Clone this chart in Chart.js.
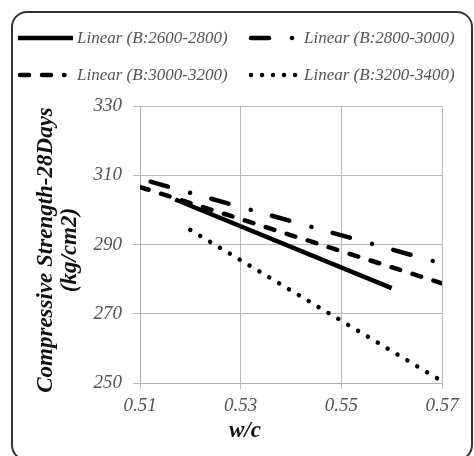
<!DOCTYPE html>
<html>
<head>
<meta charset="utf-8">
<script src="https://cdn.jsdelivr.net/npm/chart.js@4/dist/chart.umd.min.js"></script>
<style>
  html, body { margin: 0; padding: 0; background: #fff; }
  #wrap { position: relative; width: 474px; height: 456px; }
  #frame {
    position: absolute; left: 11px; top: 11px; width: 458px; height: 446px;
    border: 2px solid #333; border-radius: 16px; pointer-events: none;
  }
</style>
</head>
<body>
<div id="wrap">
  <canvas id="myChart" width="474" height="456"></canvas>
  <div id="frame"></div>
</div>
<script>
// series labels
const seriesNames = ['Linear (B:2600-2800)', 'Linear (B:2800-3000)', 'Linear (B:3000-3200)', 'Linear (B:3200-3400)'];

// trendline end points (w/c, kg/cm2)
const wc2600 = [0.517, 0.56];
const cs2600 = [303.0, 277.4];
const wc2800 = [0.51, 0.57];
const cs2800 = [309.0, 284.5];
const wc3000 = [0.51, 0.57];
const cs3000 = [306.6, 278.8];
const wc3200 = [0.52, 0.57];
const cs3200 = [294.2, 250.5];

// axis ticks
const xTicks = [0.51, 0.53, 0.55, 0.57];
const yTicks = [250, 270, 290, 310, 330];

const serif = "'Liberation Serif', 'Times New Roman', serif";

function pts(xs, ys) {
    return xs.map((x, i) => ({ x: x, y: ys[i] }));
}

const dashStyles = [
    { dash: [], offset: 0 },
    { dash: [18, 23, 0.01, 22], offset: 52 },
    { dash: [9, 13], offset: 0 },
    { dash: [0.01, 11.5], offset: 0 }
];

// legend drawn by hand so the dash patterns show
const legendPlugin = {
    id: 'handLegend',
    afterDraw(chart) {
        const ctx = chart.ctx;
        const items = [
            { x0: 18, x1: 73, y: 38, tx: 77, dash: [] },
            { x0: 251, x1: 293, y: 38, tx: 304, dash: [18, 23, 0.01, 22] },
            { x0: 20, x1: 64.5, y: 75, tx: 77, dash: [9, 13] },
            { x0: 251, x1: 297, y: 75, tx: 304, dash: [0.01, 11] }
        ];
        ctx.save();
        items.forEach((it, i) => {
            ctx.strokeStyle = '#000';
            ctx.lineWidth = 4.5;
            ctx.lineCap = i === 0 ? 'butt' : 'round';
            ctx.setLineDash(it.dash);
            ctx.beginPath();
            ctx.moveTo(it.x0, it.y);
            ctx.lineTo(it.x1, it.y);
            ctx.stroke();
            ctx.setLineDash([]);
            ctx.fillStyle = '#555';
            ctx.font = 'italic 17px ' + serif;
            ctx.textBaseline = 'middle';
            ctx.textAlign = 'left';
            ctx.fillText(seriesNames[i], it.tx, it.y + 1);
        });

        // y axis title, two lines
        ctx.fillStyle = '#111';
        ctx.font = 'bold italic 23px ' + serif;
        ctx.textAlign = 'center';
        ctx.textBaseline = 'middle';
        ctx.translate(46, 250);
        ctx.rotate(-Math.PI / 2);
        ctx.fillText('Compressive Strength-28Days', 0, 0);
        ctx.fillText('(kg/cm2)', 0, 24);
        ctx.restore();

        // x axis title
        ctx.save();
        ctx.fillStyle = '#111';
        ctx.font = 'bold italic 23px ' + serif;
        ctx.textAlign = 'center';
        ctx.textBaseline = 'middle';
        ctx.fillText('w/c', 245, 431);
        ctx.restore();
    }
};

const allX = [wc2600, wc2800, wc3000, wc3200];
const allY = [cs2600, cs2800, cs3000, cs3200];

const ctx = document.getElementById('myChart').getContext('2d');
const chart = new Chart(ctx, {
    type: 'scatter',
    data: {
        datasets: seriesNames.map((name, i) => ({
            label: name,
            data: pts(allX[i], allY[i]),
            showLine: true,
            borderColor: '#000',
            borderWidth: 4.5,
            borderDash: dashStyles[i].dash,
            borderDashOffset: dashStyles[i].offset,
            borderCapStyle: i === 0 ? 'butt' : 'round',
            pointRadius: 0,
            fill: false
        }))
    },
    options: {
        responsive: false,
        animation: false,
        layout: { padding: { left: 0, top: 106, right: 32, bottom: 0 } },
        plugins: {
            legend: { display: false },
            tooltip: { enabled: false }
        },
        scales: {
            x: {
                type: 'linear',
                min: xTicks[0],
                max: xTicks[xTicks.length - 1],
                afterBuildTicks: (scale) => { scale.ticks = xTicks.map(v => ({ value: v })); },
                afterFit: (scale) => { scale.height = 73; },
                grid: { color: '#b8b8b8', lineWidth: 1, tickLength: 6 },
                border: { color: '#b0b0b0' },
                ticks: {
                    callback: (v) => Number(v).toFixed(2),
                    color: '#555',
                    padding: 6,
                    font: { family: serif, size: 19, style: 'italic' }
                }
            },
            y: {
                min: yTicks[0],
                max: yTicks[yTicks.length - 1],
                afterBuildTicks: (scale) => { scale.ticks = yTicks.map(v => ({ value: v })); },
                afterFit: (scale) => { scale.width = 140; },
                grid: { color: '#b8b8b8', lineWidth: 1, tickLength: 7 },
                border: { color: '#b0b0b0' },
                ticks: {
                    color: '#555',
                    padding: 11,
                    font: { family: serif, size: 19, style: 'italic' }
                }
            }
        }
    },
    plugins: [legendPlugin]
});
</script>
</body>
</html>
